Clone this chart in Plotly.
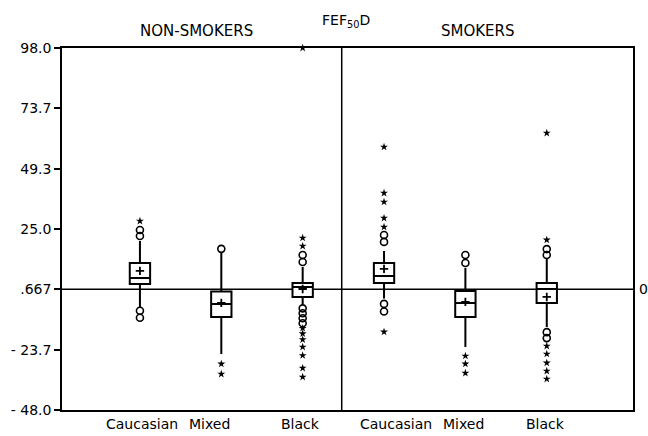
import plotly.graph_objects as go

# ---- data ----
groups = ["Caucasian", "Mixed", "Black", "Caucasian", "Mixed", "Black"]
positions = [1, 2, 3, 4, 5, 6]
q1 = [2.8, -10.5, -2.4, 3.2, -10.5, -4.8]
median = [5.2, -5.2, 1.6, 6.0, -4.8, 0.8]
q3 = [11.3, -0.2, 3.2, 11.3, 0.0, 3.2]
lower = [-6.5, -25.4, -5.2, -3.0, -22.6, -14.5]
upper = [20.2, 15.3, 9.7, 16.1, 9.3, 12.9]
mean = [8.1, -4.8, 0.8, 8.9, -4.4, -2.4]
circle_out = [
    [22.2, 24.6, -8.0, -10.8],
    [17.0],
    [11.7, 14.5, -7.0, -9.0, -11.0, -13.0],
    [19.8, 22.6, -5.2, -8.3],
    [11.3, 14.5],
    [14.5, 16.9, -16.6, -19.0],
]
star_out = [
    [28.2],
    [-29.4, -33.5],
    [18.1, 21.4, 98.0, -15.0, -17.2, -19.6, -22.6, -26.0, -31.1, -34.7],
    [25.8, 29.4, 35.9, 39.5, 58.1, -16.5],
    [-26.2, -29.4, -33.1],
    [20.6, 63.7, -22.2, -25.4, -29.0, -32.3, -35.5],
]
ref_value = 0.667
y_tickvals = [98.0, 73.7, 49.3, 25.0, 0.667, -23.7, -48.0]
y_ticktext = ["98.0", "73.7", "49.3", "25.0", ".667", "- 23.7", "- 48.0"]
panel_titles = ["NON-SMOKERS", "SMOKERS"]
main_title = "FEF<sub>50</sub>D"

# ---- layout constants ----
FONT = "DejaVu Sans"
label_x = [1.02, 1.86, 2.97, 4.15, 4.98, 5.98]
divider_x = 3.48

fig = go.Figure()

# reference line (drawn below boxes)
fig.add_shape(type="line", xref="paper", x0=-0.01, x1=1.0, yref="y",
              y0=ref_value, y1=ref_value, line=dict(color="black", width=1.5),
              layer="below")

for i, p in enumerate(positions):
    fig.add_trace(go.Box(
        x=[p], q1=[q1[i]], median=[median[i]], q3=[q3[i]],
        lowerfence=[lower[i]], upperfence=[upper[i]],
        width=0.25, whiskerwidth=0, boxpoints=False,
        fillcolor="white", line=dict(color="black", width=2),
        showlegend=False, hoverinfo="skip"))
    fig.add_trace(go.Scatter(
        x=[p], y=[mean[i]], mode="markers",
        marker=dict(symbol="cross-thin", size=6, line=dict(color="black", width=1.8)),
        showlegend=False, hoverinfo="skip"))
    fig.add_trace(go.Scatter(
        x=[p] * len(circle_out[i]), y=circle_out[i], mode="markers",
        marker=dict(symbol="circle-open", size=7, color="black", line=dict(width=1.6)),
        showlegend=False, hoverinfo="skip", cliponaxis=False))
    fig.add_trace(go.Scatter(
        x=[p] * len(star_out[i]), y=star_out[i], mode="markers",
        marker=dict(symbol="star", size=6, color="black", line=dict(width=0)),
        showlegend=False, hoverinfo="skip", cliponaxis=False))

# divider between panels
fig.add_shape(type="line", xref="x", x0=divider_x, x1=divider_x, yref="paper",
              y0=0, y1=1, line=dict(color="black", width=1.5))

# category labels
for g, lx in zip(groups, label_x):
    fig.add_annotation(x=lx, xref="x", y=-0.012, yref="paper", yanchor="top",
                       text=g, showarrow=False,
                       font=dict(family=FONT, size=14, color="black"))

fig.add_annotation(x=1.70, xref="x", y=1.047, yref="paper", yanchor="middle",
                   text=panel_titles[0], showarrow=False,
                   font=dict(family=FONT, size=15, color="black"))
fig.add_annotation(x=5.15, xref="x", y=1.047, yref="paper", yanchor="middle",
                   text=panel_titles[1], showarrow=False,
                   font=dict(family=FONT, size=15, color="black"))
fig.add_annotation(x=3.53, xref="x", y=1.075, yref="paper", yanchor="middle",
                   text=main_title, showarrow=False,
                   font=dict(family=FONT, size=14, color="black"))
fig.add_annotation(x=1.0, xref="paper", xanchor="left", xshift=4, y=ref_value, yref="y",
                   yanchor="middle", text="0", showarrow=False,
                   font=dict(family=FONT, size=14, color="black"))

fig.update_layout(
    width=648, height=436,
    margin=dict(l=62, r=15, t=48, b=26),
    paper_bgcolor="white", plot_bgcolor="white",
    font=dict(family=FONT, size=14, color="black"),
    xaxis=dict(range=[0.042, 7.06], showticklabels=False, showgrid=False,
               zeroline=False, showline=True, mirror=True, linecolor="black",
               linewidth=1.5, ticks=""),
    yaxis=dict(range=[-48, 98], tickvals=y_tickvals, ticktext=y_ticktext,
               showgrid=False, zeroline=False, showline=True, mirror=True,
               linecolor="black", linewidth=1.5, ticks="outside", ticklen=6,
               tickcolor="black", tickwidth=1.5,
               tickfont=dict(family=FONT, size=14, color="black")),
)

fig.write_html("out.html", config={"displayModeBar": False},
               post_script="document.body.style.margin='0';document.body.style.overflow='hidden';")
